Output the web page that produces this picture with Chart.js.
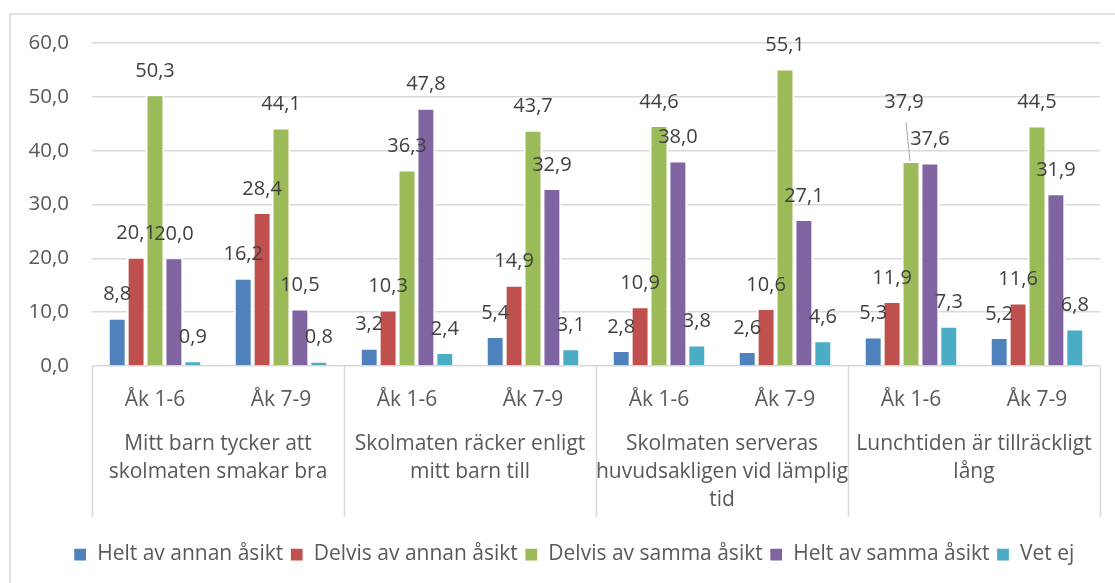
<!DOCTYPE html>
<html>
<head>
<meta charset="utf-8">
<script src="https://cdn.jsdelivr.net/npm/chart.js@4"></script>
<style>
  html, body { margin: 0; padding: 0; background: #fff; }
  #wrap { position: relative; width: 1115px; height: 583px; }
</style>
</head>
<body>
<div id="wrap"><canvas id="myChart" width="1115" height="583"></canvas></div>
<script>
var subLabels = ['Åk 1-6', 'Åk 7-9', 'Åk 1-6', 'Åk 7-9', 'Åk 1-6', 'Åk 7-9', 'Åk 1-6', 'Åk 7-9'];
var groupLabels = [
    ['Mitt barn tycker att', 'skolmaten smakar bra'],
    ['Skolmaten räcker enligt', 'mitt barn till'],
    ['Skolmaten serveras', 'huvudsakligen vid lämplig', 'tid'],
    ['Lunchtiden är tillräckligt', 'lång']
];
var seriesNames = ['Helt av annan åsikt', 'Delvis av annan åsikt', 'Delvis av samma åsikt', 'Helt av samma åsikt', 'Vet ej'];
var heltAnnan   = [8.8, 16.2, 3.2, 5.4, 2.8, 2.6, 5.3, 5.2];
var delvisAnnan = [20.1, 28.4, 10.3, 14.9, 10.9, 10.6, 11.9, 11.6];
var delvisSamma = [50.3, 44.1, 36.3, 43.7, 44.6, 55.1, 37.9, 44.5];
var heltSamma   = [20.0, 10.5, 47.8, 32.9, 38.0, 27.1, 37.6, 31.9];
var vetEj       = [0.9, 0.8, 2.4, 3.1, 3.8, 4.6, 7.3, 6.8];
var colors = ['#4F81BD', '#C0504D', '#9BBB59', '#8064A2', '#4BACC6'];

var FONT = '"Open Sans", "Noto Sans", sans-serif';

function fmt(v) {
    return v.toFixed(1).replace('.', ',');
}

// outer frame of the Excel chart
var framePlugin = {
    id: 'frame',
    beforeDraw: function(chart) {
        var c = chart.ctx;
        c.save();
        c.strokeStyle = '#d9d9d9';
        c.lineWidth = 1.5;
        c.strokeRect(10, 14, 1120, 600);
        c.restore();
    }
};

// legend in Excel is centred a bit to the right of the canvas centre
var legendShift = {
    id: 'legendShift',
    afterLayout: function(chart) {
        chart.legend.left += 48;
        chart.legend.width -= 48;
    }
};

// value labels above bars
var valuePlugin = {
    id: 'values',
    afterDatasetsDraw: function(chart) {
        var c = chart.ctx;
        c.save();
        c.font = '20px ' + FONT;
        c.fillStyle = '#404040';
        c.textAlign = 'center';
        c.textBaseline = 'middle';
        chart.data.datasets.forEach(function(ds, di) {
            var meta = chart.getDatasetMeta(di);
            meta.data.forEach(function(bar, i) {
                var x = bar.x, y = bar.y - 24;
                // the moved label with a leader line (37,9)
                if (di === 2 && i === 6) {
                    c.strokeStyle = '#a6a6a6';
                    c.lineWidth = 1;
                    c.beginPath();
                    c.moveTo(bar.x - 5, bar.y - 40);
                    c.lineTo(bar.x - 1, bar.y - 1);
                    c.stroke();
                    x = bar.x - 7;
                    y = bar.y - 60;
                }
                c.fillText(fmt(ds.data[i]), x, y);
            });
        });
        c.restore();
    }
};

// second level of category labels and separator lines
var groupPlugin = {
    id: 'groups',
    afterDraw: function(chart) {
        var c = chart.ctx;
        var xs = chart.scales.x;
        var area = chart.chartArea;
        var step = xs.getPixelForValue(1) - xs.getPixelForValue(0);
        c.save();
        c.strokeStyle = '#d9d9d9';
        c.lineWidth = 1.5;
        for (var g = 0; g <= groupLabels.length; g++) {
            var px = Math.round(xs.getPixelForValue(g * 2) - step / 2) + 0.5;
            c.beginPath();
            c.moveTo(px, area.bottom);
            c.lineTo(px, area.bottom + 151);
            c.stroke();
        }
        c.font = '21px ' + FONT;
        c.fillStyle = '#595959';
        c.textAlign = 'center';
        c.textBaseline = 'middle';
        groupLabels.forEach(function(lines, g) {
            var cx = (xs.getPixelForValue(g * 2) + xs.getPixelForValue(g * 2 + 1)) / 2;
            lines.forEach(function(t, k) {
                c.fillText(t, cx, area.bottom + 78 + k * 28);
            });
        });
        c.restore();
    }
};

var ctx = document.getElementById('myChart').getContext('2d');
var datasetsData = [heltAnnan, delvisAnnan, delvisSamma, heltSamma, vetEj];

var chart = new Chart(ctx, {
    type: 'bar',
    plugins: [framePlugin, legendShift, valuePlugin, groupPlugin],
    data: {
        labels: subLabels,
        datasets: datasetsData.map(function(d, i) {
            return {
                label: seriesNames[i],
                data: d,
                backgroundColor: colors[i],
                borderColor: '#ffffff',
                borderWidth: { top: 1, left: 2, right: 2, bottom: 0 },
                borderSkipped: false,
                categoryPercentage: 0.75,
                barPercentage: 1.0
            };
        })
    },
    options: {
        responsive: false,
        animation: false,
        layout: { padding: { top: 43, right: 15, left: 0, bottom: 8 } },
        plugins: {
            tooltip: { enabled: false },
            legend: {
                position: 'bottom',
                labels: {
                    font: { family: FONT, size: 21 },
                    color: '#595959',
                    boxWidth: 13,
                    boxHeight: 13,
                    padding: 7
                }
            }
        },
        scales: {
            x: {
                grid: { display: false },
                border: { display: false },
                ticks: {
                    font: { family: FONT, size: 21 },
                    color: '#595959',
                    padding: 13,
                    maxRotation: 0
                },
                afterFit: function(s) { s.height = 171; }
            },
            y: {
                min: 0,
                max: 60,
                ticks: {
                    stepSize: 10,
                    font: { family: FONT, size: 20.5 },
                    color: '#595959',
                    padding: 23,
                    callback: function(v) { return fmt(v); }
                },
                grid: { color: '#d9d9d9', lineWidth: 1.5, drawTicks: false },
                border: { display: false },
                afterFit: function(s) { s.width = 92; }
            }
        }
    }
});
</script>
</body>
</html>
